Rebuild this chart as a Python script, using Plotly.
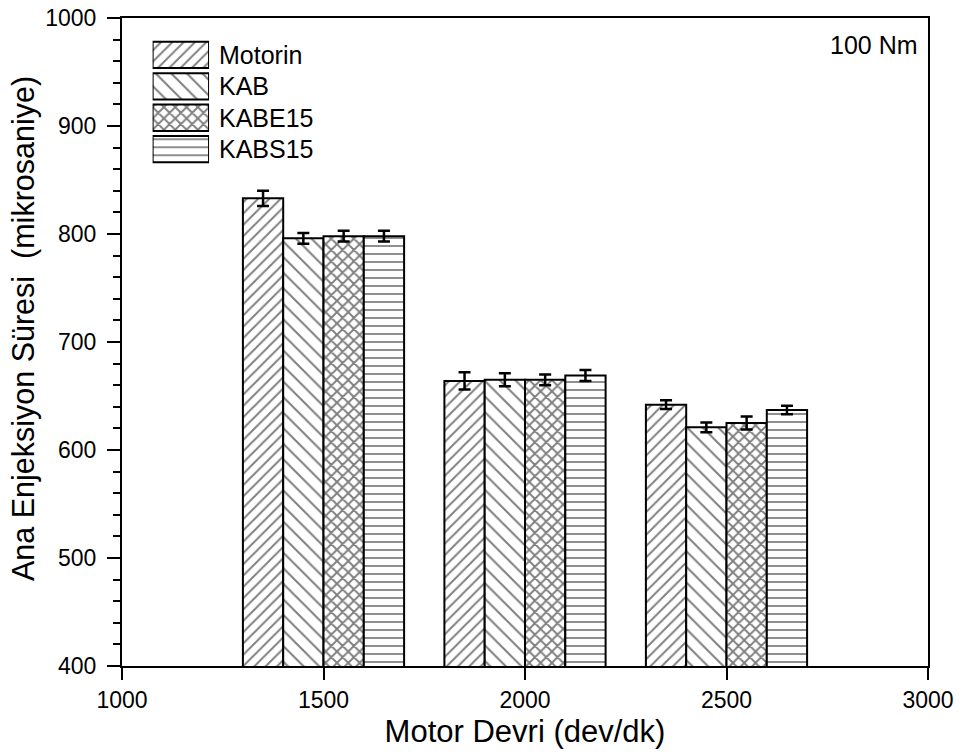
import plotly.graph_objects as go

# Engine speed (dev/dk) at 100 Nm load
speeds = [1500, 2000, 2500]
fuels = ["Motorin", "KAB", "KABE15", "KABS15"]

# Main injection duration (mikrosaniye) and error margins per fuel
motorin = [833, 664, 642]
kab = [796, 665, 621]
kabe15 = [798, 665, 625]
kabs15 = [798, 669, 637]

motorin_err = [7, 8, 4]
kab_err = [5, 6, 4.5]
kabe15_err = [5, 5, 6]
kabs15_err = [5, 5, 4]

values = [motorin, kab, kabe15, kabs15]
errors = [motorin_err, kab_err, kabe15_err, kabs15_err]
shapes = ["/", "\\", "x", "-"]
pattern_sizes = [8, 11, 8, 8]
pattern_solidity = [0.24, 0.18, 0.42, 0.22]

FONT = "Arial, Liberation Sans, sans-serif"

fig = go.Figure()

for name, vals, errs, shp, sz, sol in zip(fuels, values, errors, shapes,
                                          pattern_sizes, pattern_solidity):
    fig.add_trace(go.Bar(
        x=speeds, y=vals, name=name, showlegend=False,
        marker=dict(color="white",
                    line=dict(color="black", width=2),
                    pattern=dict(shape=shp, size=sz, solidity=sol,
                                 fgcolor="black", bgcolor="white")),
        error_y=dict(type="data", array=errs, visible=True,
                     color="black", thickness=2.5, width=6),
    ))

# Legend swatches drawn as patterned bars on a small auxiliary axis pair
for i, (name, shp, sz, sol) in enumerate(zip(fuels, shapes, pattern_sizes,
                                             pattern_solidity)):
    fig.add_trace(go.Bar(
        x=[1], y=[i], base=0, orientation="h", width=0.84,
        xaxis="x2", yaxis="y2", showlegend=False, hoverinfo="skip",
        marker=dict(color="white",
                    line=dict(color="black", width=2),
                    pattern=dict(shape=shp, size=sz, solidity=sol,
                                 fgcolor="black", bgcolor="white")),
    ))
    fig.add_annotation(x=0.118, y=i, xref="paper", yref="y2",
                       text=name, showarrow=False, xanchor="left",
                       yanchor="middle",
                       font=dict(family=FONT, size=25, color="black"))

fig.add_annotation(x=0.99, y=0.958, xref="paper", yref="paper",
                   text="100 Nm", showarrow=False, xanchor="right",
                   yanchor="middle",
                   font=dict(family=FONT, size=25, color="black"))

# Y axis title placed as a rotated annotation
fig.add_annotation(x=-0.1228, y=0.52, xref="paper", yref="paper",
                   text="Ana Enjeksiyon Süresi  (mikrosaniye)",
                   textangle=-90, showarrow=False,
                   xanchor="center", yanchor="middle",
                   font=dict(family=FONT, size=30.5, color="black"))

fig.update_layout(
    width=966, height=755,
    margin=dict(l=122, r=38, t=18, b=89),
    paper_bgcolor="white", plot_bgcolor="white",
    barmode="group", bargap=0.2, bargroupgap=0,
    font=dict(family=FONT, color="black"),
    xaxis=dict(
        range=[1000, 3000], tickvals=[1000, 1500, 2000, 2500, 3000],
        ticks="outside", ticklen=12, tickwidth=2, tickcolor="black",
        showline=True, linewidth=2, linecolor="black", mirror=True,
        showgrid=False, zeroline=False, automargin=False,
        tickfont=dict(size=23),
        title=dict(text="Motor Devri (dev/dk)", font=dict(size=31), standoff=9),
    ),
    yaxis=dict(
        range=[400, 1000], dtick=100,
        ticks="outside", ticklen=13, tickwidth=2, tickcolor="black",
        minor=dict(dtick=20, ticks="outside", ticklen=7, tickwidth=2,
                   tickcolor="black", showgrid=False),
        showline=True, linewidth=2, linecolor="black", mirror=True,
        showgrid=False, zeroline=False, automargin=False,
        tickfont=dict(size=23), ticklabelstandoff=6,
    ),
    xaxis2=dict(domain=[0.038, 0.108], range=[0, 1], anchor="y2",
                visible=False, fixedrange=True),
    yaxis2=dict(domain=[0.7735, 0.9672], range=[3.5, -0.5], anchor="x2",
                visible=False, fixedrange=True),
)

fig.write_html("out.html")
